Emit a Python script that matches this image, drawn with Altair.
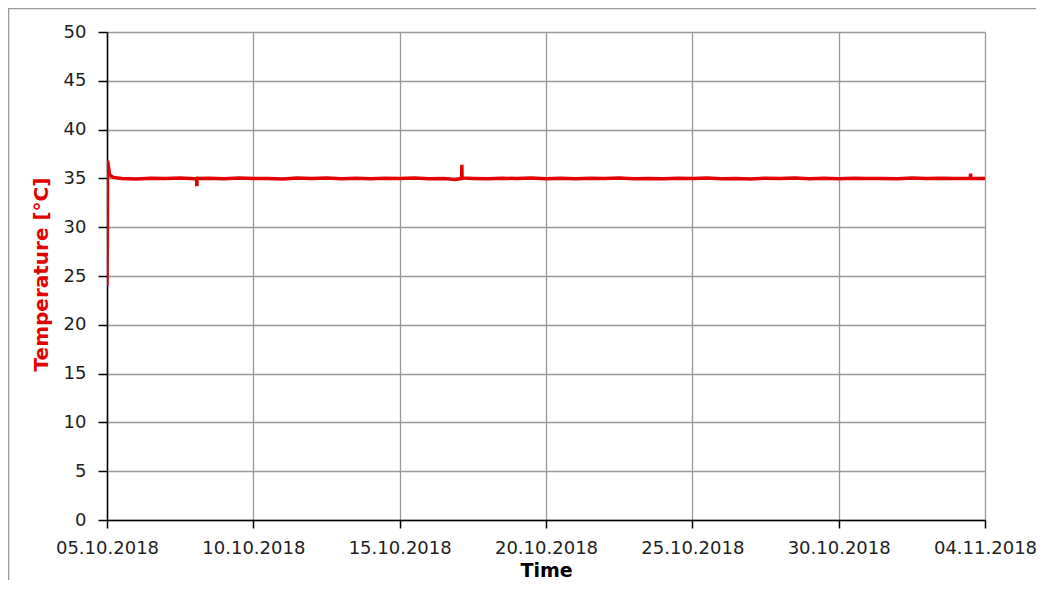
import altair as alt
import pandas as pd

# ---- data ----
times = [
    "2018-10-05T00:00", "2018-10-05T00:30", "2018-10-05T02:00", "2018-10-05T05:00",
    "2018-10-05T12:00", "2018-10-06T00:00", "2018-10-06T12:00", "2018-10-07T00:00",
    "2018-10-07T12:00", "2018-10-08T00:00", "2018-10-08T01:30", "2018-10-08T01:40",
    "2018-10-08T01:50", "2018-10-08T12:00", "2018-10-09T00:00", "2018-10-09T12:00",
    "2018-10-10T00:00", "2018-10-10T12:00", "2018-10-11T00:00", "2018-10-11T12:00",
    "2018-10-12T00:00", "2018-10-12T12:00", "2018-10-13T00:00", "2018-10-13T12:00",
    "2018-10-14T00:00", "2018-10-14T12:00", "2018-10-15T00:00", "2018-10-15T12:00",
    "2018-10-16T00:00", "2018-10-16T12:00", "2018-10-16T21:30", "2018-10-17T02:50",
    "2018-10-17T03:00", "2018-10-17T03:10", "2018-10-17T12:00", "2018-10-18T00:00",
    "2018-10-18T12:00", "2018-10-19T00:00", "2018-10-19T12:00", "2018-10-20T00:00",
    "2018-10-20T12:00", "2018-10-21T00:00", "2018-10-21T12:00", "2018-10-22T00:00",
    "2018-10-22T12:00", "2018-10-23T00:00", "2018-10-23T12:00", "2018-10-24T00:00",
    "2018-10-24T12:00", "2018-10-25T00:00", "2018-10-25T12:00", "2018-10-26T00:00",
    "2018-10-26T12:00", "2018-10-27T00:00", "2018-10-27T12:00", "2018-10-28T00:00",
    "2018-10-28T12:00", "2018-10-29T00:00", "2018-10-29T12:00", "2018-10-30T00:00",
    "2018-10-30T12:00", "2018-10-31T00:00", "2018-10-31T12:00", "2018-11-01T00:00",
    "2018-11-01T12:00", "2018-11-02T00:00", "2018-11-02T12:00", "2018-11-03T00:00",
    "2018-11-03T12:00", "2018-11-03T12:10", "2018-11-03T12:20", "2018-11-04T00:00",
]
temps = [
    24.0, 36.8, 35.4, 35.1,
    35.0, 34.95, 35.02, 34.98,
    35.03, 34.97, 35.0, 34.2,
    35.0, 35.02, 34.96, 35.04,
    34.98, 35.0, 34.95, 35.03,
    34.99, 35.05, 34.97, 35.02,
    34.96, 35.01, 34.98, 35.03,
    34.97, 35.0, 34.9, 35.0,
    36.4, 35.05, 35.0, 34.96,
    35.02, 34.98, 35.03, 34.97,
    35.01, 34.96, 35.02, 34.99,
    35.04, 34.97, 35.0, 34.96,
    35.02, 34.98, 35.03, 34.97,
    35.0, 34.95, 35.02, 34.98,
    35.03, 34.97, 35.01, 34.96,
    35.02, 34.98, 35.0, 34.97,
    35.03, 34.98, 35.02, 34.98,
    35.0, 35.5, 35.0, 35.0,
]
x_tick_dates = [(2018, 10, 5), (2018, 10, 10), (2018, 10, 15), (2018, 10, 20),
                (2018, 10, 25), (2018, 10, 30), (2018, 11, 4)]
y_ticks = [0, 5, 10, 15, 20, 25, 30, 35, 40, 45, 50]

df = pd.DataFrame({"time": times, "temp": temps})

RED = "#E20000"
FONT = "DejaVu Sans"
x_vals = [alt.DateTime(year=y, month=m, date=d) for (y, m, d) in x_tick_dates]

line = alt.Chart(df).mark_line(color=RED, strokeWidth=3.5, clip=True).encode(
    x=alt.X(
        "time:T",
        scale=alt.Scale(domain=[x_vals[0], x_vals[-1]]),
        axis=alt.Axis(
            values=x_vals, format="%d.%m.%Y", title="Time",
            labelFlush=False, labelOverlap=False,
            tickSize=8, labelPadding=11,
            titleX=439, titleY=56, titleBaseline="alphabetic",
            titleColor="#000000", titleFontSize=19,
        ),
    ),
    y=alt.Y(
        "temp:Q",
        scale=alt.Scale(domain=[0, 50], nice=False, zero=True),
        axis=alt.Axis(
            values=y_ticks, title="Temperature [°C]",
            tickSize=9, labelPadding=12,
            titleColor=RED, titleX=-60, titleY=242,
            titleBaseline="alphabetic", titleAlign="center",
        ),
    ),
)

frame = alt.Chart(pd.DataFrame({"a": [0]})).mark_rect(
    fill="transparent", stroke="#9a9a9a", strokeWidth=1.5
).encode(
    x=alt.value(-98.5), x2=alt.value(1000), y=alt.value(-23.5), y2=alt.value(700)
)

chart = alt.layer(frame, line).properties(
    width=878, height=488,
    autosize=alt.AutoSizeParams(type="none"),
    padding={"left": 99, "top": 24, "right": 51, "bottom": 60},
    background="white",
).configure_view(stroke=None).configure_axis(
    domainColor="#000000", domainWidth=1.5,
    tickColor="#000000", tickWidth=1.5,
    gridColor="#999999", gridWidth=1.3,
    labelFont=FONT, labelFontSize=18, labelColor="#1e1e1e",
    titleFont=FONT, titleFontSize=20, titleFontWeight="bold",
)

chart.save("out.html", embed_options={"renderer": "svg", "actions": False})
